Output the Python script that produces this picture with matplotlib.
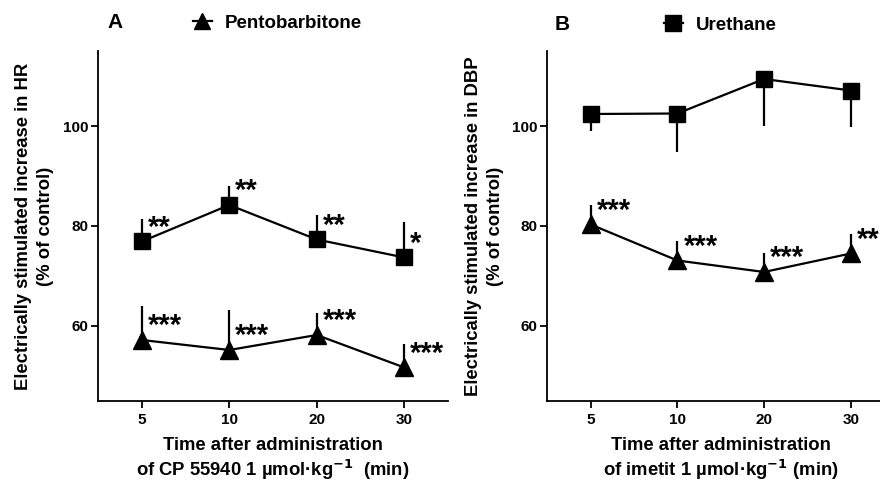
import numpy as np
import matplotlib.pyplot as plt
from matplotlib.lines import Line2D

plt.rcParams['font.family'] = ['Liberation Sans', 'DejaVu Sans']
plt.rcParams['font.weight'] = 'bold'
plt.rcParams['mathtext.default'] = 'bf'

# Daten
times = ['5', '10', '20', '30']

# Panel A (HR)
a_square = [76.9, 84.2, 77.3, 73.7]
a_square_err = [4.5, 3.8, 4.8, 7.0]
a_square_sig = ['**', '**', '**', '*']
a_tri = [57.2, 55.2, 58.2, 51.7]
a_tri_err = [6.7, 8.0, 4.4, 4.7]
a_tri_sig = ['***', '***', '***', '***']

# Panel B (DBP)
b_square = [102.4, 102.5, 109.4, 107.1]
b_square_err = [3.4, 7.7, 9.4, 7.3]   # nach unten
b_tri = [80.3, 73.1, 70.8, 74.5]
b_tri_err = [3.8, 3.8, 3.8, 3.8]
b_tri_sig = ['***', '***', '***', '**']

fig = plt.figure(figsize=(8.8, 4.83), dpi=100)
axA = fig.add_axes([0.1114, 0.1698, 0.3977, 0.7246])
axB = fig.add_axes([0.622, 0.1698, 0.394, 0.7246])

x = np.arange(len(times))
lw = 1.6


def series(ax, y, err, marker, down=False, sig=None):
    zeros = np.zeros(len(y))
    yerr = [err, zeros] if down else [zeros, err]
    ax.errorbar(x, y, yerr=yerr, fmt='-', color='black', lw=lw,
                elinewidth=lw, capsize=0, marker=marker,
                markersize=12 if marker == 's' else 12.5,
                markerfacecolor='black', markeredgecolor='black')
    if sig:
        for xi, yi, s in zip(x, y, sig):
            ax.annotate(s, (xi, yi), xytext=(6, 14), textcoords='offset pixels',
                        ha='left', va='center', fontsize=21, fontweight='bold',
                        annotation_clip=False)


series(axA, a_square, a_square_err, 's', sig=a_square_sig)
series(axA, a_tri, a_tri_err, '^', sig=a_tri_sig)
series(axB, b_square, b_square_err, 's', down=True)
series(axB, b_tri, b_tri_err, '^', sig=b_tri_sig)

for ax in (axA, axB):
    ax.set_xlim(-0.5, 3.5)
    ax.set_ylim(45, 115)
    ax.set_xticks(x)
    ax.set_xticklabels(times)
    ax.set_yticks([60, 80, 100])
    for s in ('top', 'right'):
        ax.spines[s].set_visible(False)
    for s in ('left', 'bottom'):
        ax.spines[s].set_linewidth(1.3)
    ax.tick_params(width=1.3, length=5, labelsize=11, pad=2)
    ax.tick_params(axis='x', pad=4)

lab = dict(fontsize=13.3, fontweight='bold')
axA.set_ylabel('Electrically stimulated increase in HR\n(% of control)',
               labelpad=6, linespacing=1.4, **lab)
axB.set_ylabel('Electrically stimulated increase in DBP\n(% of control)',
               labelpad=6, linespacing=1.4, **lab)
axA.set_xlabel('Time after administration\nof CP 55940 1 µmol·kg$^{-1}$  (min)',
               labelpad=7, linespacing=1.2, **lab)
axB.set_xlabel('Time after administration\nof imetit 1 µmol·kg$^{-1}$ (min)',
               labelpad=7, linespacing=1.2, **lab)

fig.text(107 / 880, 1 - 23 / 483, 'A', fontsize=15, fontweight='bold', va='center')
fig.text(555 / 880, 1 - 25 / 483, 'B', fontsize=15, fontweight='bold', va='center')

tri_h = Line2D([], [], color='black', lw=lw, marker='^', markersize=11.5)
sq_h = Line2D([], [], color='black', lw=lw, marker='s', markersize=11)
leg = dict(loc='center left', bbox_transform=fig.transFigure, frameon=False,
           handlelength=1.0, handletextpad=0.7, borderaxespad=0, borderpad=0,
           prop={'size': 13.5, 'weight': 'bold'})
axA.legend(handles=[tri_h], labels=['Pentobarbitone'],
           bbox_to_anchor=(193 / 880, 1 - 23 / 483), **leg)
axB.legend(handles=[sq_h], labels=['Urethane'],
           bbox_to_anchor=(664 / 880, 1 - 25 / 483), **leg)

fig.savefig('out.png', dpi=100)
